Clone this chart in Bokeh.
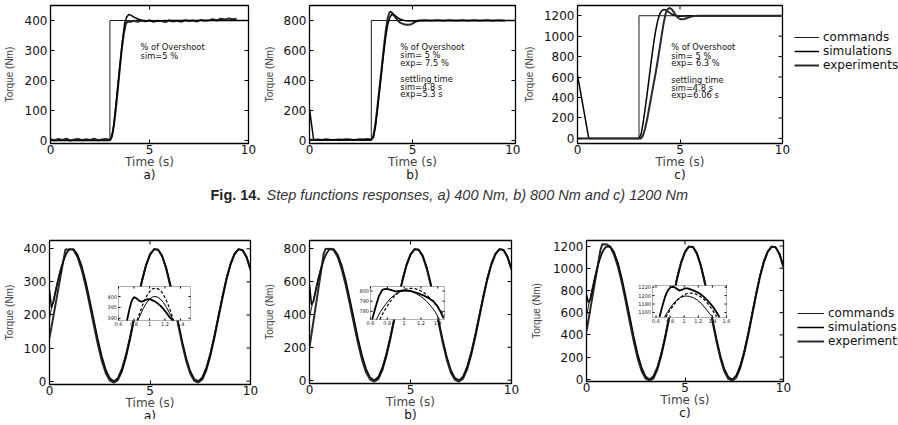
import math

from bokeh.plotting import figure
from bokeh.layouts import column, row
from bokeh.core.properties import value
from bokeh.models import (Range1d, FixedTicker, LinearAxis, Label, Legend, LegendItem,
                          BoxAnnotation)
from bokeh.embed import file_html
from bokeh.resources import INLINE

# ---------------------------------------------------------------- data
# Step responses (top row): commands, simulations, experiments
step_cmd_t = [0.0, 3.0, 3.0, 10.0]
step_a_cmd = [0, 0, 400, 400]
step_b_cmd = [0, 0, 800, 800]
step_c_cmd = [0, 0, 1200, 1200]

step_a_sim_t = [0.0, 2.98, 3.05, 3.15, 3.25, 3.35, 3.45, 3.55, 3.65, 3.75, 3.85,
                3.95, 4.05, 4.2, 4.4, 4.6, 4.85, 5.1, 5.5, 6.0, 10.0]
step_a_sim = [0, 0, 5, 30, 85, 150, 215, 280, 340, 392, 412,
              420, 418, 412, 405, 401, 399, 398.5, 399.5, 400, 400]

step_a_exp_t = [0.0, 0.2, 0.4, 0.6, 0.8, 1.0, 1.2, 1.4, 1.6, 1.8, 2.0, 2.2, 2.4, 2.6,
                2.8, 3.0, 3.1, 3.2, 3.3, 3.4, 3.5, 3.6, 3.7, 3.8, 3.9, 4.0, 4.2, 4.4,
                4.6, 4.8, 5.0, 5.2, 5.4, 5.6, 5.8, 6.0, 6.2, 6.4, 6.6, 6.8, 7.0, 7.2,
                7.4, 7.6, 7.8, 8.0, 8.2, 8.4, 8.6, 8.8, 9.0, 9.2, 9.4]
step_a_exp = [4, 1, 5, 2, 6, 0, 3, 5, 1, 4, 2, 6, 1, 3,
              5, 2, 12, 48, 105, 170, 240, 305, 355, 388, 398, 395, 399, 396,
              400, 397, 401, 396, 399, 398, 395, 400, 397, 399, 396, 401, 398, 400,
              397, 402, 399, 401, 404, 400, 406, 403, 407, 404, 406]

step_b_sim_t = [0.0, 0.2, 3.0, 3.1, 3.2, 3.3, 3.4, 3.5, 3.6, 3.7, 3.8, 3.9, 4.0,
                4.1, 4.2, 4.3, 4.4, 4.6, 4.8, 5.0, 5.3, 5.8, 10.0]
step_b_sim = [210, 5, 5, 20, 90, 205, 330, 455, 580, 690, 775, 822, 840,
              838, 828, 817, 808, 800, 796, 796, 799, 800, 800]

step_b_exp_t = [0.0, 0.2, 0.4, 0.6, 0.8, 1.0, 1.2, 1.4, 1.6, 1.8, 2.0, 2.2, 2.4, 2.6,
                2.8, 3.0, 3.1, 3.2, 3.3, 3.4, 3.5, 3.6, 3.7, 3.8, 3.9, 4.0, 4.1, 4.2,
                4.3, 4.4, 4.5, 4.6, 4.7, 4.8, 4.9, 5.0, 5.1, 5.2, 5.3, 5.6, 5.9, 6.2,
                6.5, 6.8, 7.1, 7.4, 7.7, 8.0, 8.3, 8.6, 8.9, 9.2, 9.5]
step_b_exp = [6, 3, 7, 4, 8, 5, 3, 7, 5, 9, 6, 4, 8, 6,
              10, 7, 30, 110, 230, 355, 480, 610, 730, 820, 858, 853, 835, 815,
              797, 786, 779, 775, 772, 771, 773, 779, 787, 795, 800, 802, 799, 801,
              798, 802, 799, 801, 798, 802, 799, 801, 798, 801, 799]

step_c_sim_t = [0.0, 0.55, 3.0, 3.1, 3.2, 3.3, 3.4, 3.5, 3.6, 3.7, 3.8, 3.9, 4.0,
                4.1, 4.2, 4.3, 4.4, 4.55, 4.7, 4.9, 5.2, 5.6, 10.0]
step_c_sim = [620, 0, 0, 40, 150, 290, 440, 600, 760, 910, 1040, 1140, 1210,
              1248, 1260, 1256, 1243, 1222, 1205, 1195, 1197, 1200, 1200]

step_c_exp_t = [0.0, 3.1, 3.2, 3.3, 3.4, 3.5, 3.6, 3.7, 3.8, 3.9, 4.0, 4.1, 4.2, 4.3,
                4.4, 4.5, 4.6, 4.7, 4.8, 4.9, 5.0, 5.1, 5.2, 5.35, 5.5, 5.7, 5.9, 10.0]
step_c_exp = [0, 0, 30, 100, 190, 300, 410, 520, 625, 745, 870, 1000, 1125, 1222,
              1265, 1276, 1262, 1235, 1205, 1180, 1168, 1165, 1168, 1178, 1190, 1197, 1200, 1200]

# Sinusoidal tracking (bottom row), sampled on a common time base
sine_t = [0.0, 0.1, 0.2, 0.3, 0.4, 0.5, 0.6, 0.7, 0.8, 0.9, 1.0, 1.2, 1.4, 1.6,
          1.8, 2.0, 2.2, 2.4, 2.6, 2.8, 3.0, 3.2, 3.4, 3.6, 3.8, 4.0, 4.2, 4.4,
          4.6, 4.8, 5.0, 5.2, 5.4, 5.6, 5.8, 6.0, 6.2, 6.4, 6.6, 6.8, 7.0, 7.2,
          7.4, 7.6, 7.8, 8.0, 8.2, 8.4, 8.6, 8.8, 9.0, 9.2, 9.4, 9.6, 9.8, 10.0]

sine_a_cmd = [190, 220, 249, 278, 304, 329, 350, 368, 383, 393, 399, 397, 377, 342,
              294, 237, 178, 120, 69, 30, 6, 0, 12, 41, 84, 137, 196, 255,
              310, 354, 385, 399, 396, 375, 338, 288, 232, 172, 114, 65, 27, 5,
              1, 14, 44, 88, 142, 202, 261, 315, 358, 387, 400, 394, 372, 333]
sine_a_sim = [275, 222, 240, 268, 296, 322, 345, 364, 380, 391, 398, 399, 382, 349,
              302, 246, 187, 128, 76, 35, 9, 0, 8, 34, 75, 127, 186, 246,
              302, 348, 381, 398, 398, 380, 345, 296, 240, 180, 122, 71, 31, 7,
              0, 10, 38, 80, 133, 192, 252, 307, 352, 383, 398, 397, 377, 340]
sine_a_exp = [130, 164, 198, 232, 266, 300, 334, 368, 399, 397, 399, 396, 374, 337,
              288, 231, 171, 113, 62, 24, 2, -4, 3, 30, 72, 126, 186, 247,
              303, 350, 383, 399, 397, 378, 341, 290, 233, 172, 113, 62, 23, 1,
              -4, 5, 33, 76, 130, 190, 250, 306, 351, 383, 399, 396, 375, 336]

sine_b_cmd = [380, 439, 498, 555, 609, 657, 700, 737, 765, 785, 797, 794, 754, 684,
              588, 475, 355, 239, 138, 60, 13, 0, 24, 81, 167, 273, 391, 510,
              619, 709, 770, 798, 791, 749, 675, 577, 463, 343, 229, 129, 54, 10,
              1, 28, 88, 177, 284, 403, 521, 629, 716, 774, 799, 789, 743, 667]
sine_b_sim = [580, 458, 480, 536, 592, 644, 690, 728, 760, 782, 796, 798, 764, 698,
              604, 492, 374, 256, 152, 70, 18, 0, 16, 68, 150, 254, 372, 492,
              604, 696, 762, 796, 796, 760, 690, 592, 480, 360, 244, 142, 62, 14,
              0, 20, 76, 160, 266, 384, 504, 614, 704, 766, 796, 794, 754, 680]
sine_b_exp = [200, 281, 362, 443, 524, 605, 686, 768, 800, 799, 800, 792, 748, 674,
              576, 462, 342, 226, 124, 48, 4, -8, 6, 60, 144, 252, 372, 494,
              606, 700, 766, 798, 794, 756, 682, 580, 466, 344, 226, 124, 46, 2,
              -8, 10, 66, 152, 260, 380, 500, 612, 702, 766, 798, 792, 750, 672]

sine_c_cmd = [570, 659, 747, 833, 913, 986, 1051, 1105, 1148, 1178, 1196, 1190, 1132, 1026,
              882, 712, 533, 359, 208, 90, 19, 1, 36, 122, 251, 410, 587, 764,
              929, 1063, 1154, 1197, 1187, 1124, 1013, 865, 695, 515, 343, 194, 81, 15,
              2, 42, 132, 265, 426, 605, 782, 944, 1074, 1160, 1199, 1183, 1115, 1000]
sine_c_sim = [760, 690, 722, 804, 888, 966, 1035, 1092, 1140, 1173, 1194, 1197, 1146, 1047,
              906, 738, 561, 384, 228, 105, 27, 0, 24, 102, 225, 381, 558, 738,
              906, 1044, 1143, 1194, 1194, 1140, 1035, 888, 720, 540, 366, 213, 93, 21,
              0, 30, 114, 240, 399, 576, 756, 921, 1056, 1149, 1194, 1191, 1131, 1020]
sine_c_exp = [430, 534, 638, 742, 846, 950, 1054, 1158, 1218, 1214, 1217, 1196, 1122, 1011,
              864, 693, 513, 339, 186, 72, 6, -12, 9, 90, 216, 378, 558, 741,
              909, 1050, 1149, 1197, 1191, 1134, 1023, 870, 699, 516, 339, 186, 69, 3,
              -12, 15, 99, 228, 390, 570, 750, 918, 1053, 1149, 1197, 1188, 1125, 1008]

# Zoomed views of the first peak (insets)
zoom_a_exp_t = [0.71, 0.74, 0.77, 0.80, 0.83, 0.87, 0.90, 0.94, 0.98, 1.02, 1.06, 1.10,
                1.14, 1.18, 1.22, 1.26, 1.30]
zoom_a_exp = [389, 394, 398, 399.7, 399.2, 398, 397.6, 398.3, 398.8, 398.6, 397.9, 397.0,
              395.8, 394.3, 392.5, 390.5, 389]
zoom_a_sim_t = [0.85, 0.88, 0.92, 0.96, 1.00, 1.04, 1.07, 1.10, 1.14, 1.18, 1.22, 1.26, 1.30, 1.32]
zoom_a_sim = [389, 391.5, 394.5, 397, 398.8, 399.8, 400, 399.8, 398.9, 397.3, 395.0, 392.3, 389.8, 389]
zoom_a_cmd_t = [0.84, 0.88, 0.92, 0.96, 1.00, 1.04, 1.08, 1.12, 1.16, 1.20, 1.24, 1.28, 1.31]
zoom_a_cmd = [389, 393, 396.8, 399.9, 402.2, 403.5, 403.9, 403.4, 402, 399.6, 396.4, 392.4, 389]

zoom_b_exp_t = [0.62, 0.66, 0.70, 0.74, 0.78, 0.82, 0.86, 0.90, 0.95, 1.00, 1.05, 1.10,
                1.16, 1.22, 1.28, 1.34, 1.39, 1.43, 1.47]
zoom_b_exp = [772, 784, 795, 801, 802, 801.5, 800.5, 799.5, 800, 800.5, 800.3, 799.5,
              798, 796, 793.5, 790.5, 786, 780, 773]
zoom_b_sim_t = [0.67, 0.72, 0.78, 0.84, 0.90, 0.96, 1.02, 1.08, 1.14, 1.20, 1.26, 1.32, 1.37, 1.42]
zoom_b_sim = [772, 780, 787, 793, 797, 799.5, 800.3, 799.6, 797.6, 794.6, 790.5, 785, 779.5, 772]
zoom_b_cmd_t = [0.71, 0.76, 0.82, 0.88, 0.94, 1.00, 1.06, 1.12, 1.18, 1.24, 1.30, 1.36, 1.42, 1.48]
zoom_b_cmd = [772, 780, 788, 794.5, 799, 801.5, 802.5, 802.5, 801, 798, 793.5, 788, 782, 776]

zoom_c_exp_t = [0.65, 0.69, 0.73, 0.77, 0.81, 0.85, 0.89, 0.93, 0.97, 1.01, 1.05, 1.10,
                1.16, 1.22, 1.28, 1.34, 1.40, 1.45, 1.50]
zoom_c_exp = [1149, 1175, 1198, 1213, 1220, 1221, 1217, 1212, 1214, 1217, 1217, 1214,
              1210, 1205, 1197, 1187, 1175, 1163, 1149]
zoom_c_sim_t = [0.72, 0.77, 0.83, 0.89, 0.95, 1.01, 1.07, 1.13, 1.19, 1.25, 1.31, 1.36, 1.41]
zoom_c_sim = [1149, 1163, 1178, 1189, 1196, 1199, 1198.5, 1195, 1189, 1180, 1168, 1157, 1148]
zoom_c_cmd_t = [0.74, 0.80, 0.86, 0.92, 0.98, 1.04, 1.10, 1.16, 1.22, 1.28, 1.34, 1.40, 1.46]
zoom_c_cmd = [1149, 1166, 1180, 1192, 1200, 1205, 1206, 1204, 1199, 1191, 1180, 1166, 1150]

x_ticks = [0, 5, 10]
y_ticks_400 = [0, 100, 200, 300, 400]
y_ticks_800 = [0, 200, 400, 600, 800]
y_ticks_1200 = [0, 200, 400, 600, 800, 1000, 1200]

zoom_x_ticks_ab = [0.6, 0.8, 1.0, 1.2, 1.4]
zoom_x_labels_ab = ["0.6", "0.8", "1", "1.2", "1.4"]
zoom_x_ticks_c = [0.6, 0.8, 1.0, 1.2, 1.4, 1.6]
zoom_x_labels_c = ["0.6", "0.8", "1", "1.2", "1.4", "1.6"]
zoom_a_y_ticks = [390, 395, 400]
zoom_b_y_ticks = [780, 790, 800]
zoom_c_y_ticks = [1160, 1180, 1200, 1220]

legend_labels = ["commands", "simulations", "experiments"]

# ---------------------------------------------------------------- styles
FONT = "DejaVu Sans"
LABEL_FONT = "Liberation Sans"
CAPTION_FONT = "Liberation Sans"

CMD = dict(line_color="#1c1c1c", line_width=1.0)
SIM = dict(line_color="#000000", line_width=1.5)
EXP = dict(line_color="#2a2a2a", line_width=2.0)
TICK = dict(line_color="black", line_width=1.0)


def style_axis(ax, standoff):
    ax.major_tick_in = 4
    ax.major_tick_out = 0
    ax.minor_tick_in = 0
    ax.minor_tick_out = 0
    ax.major_tick_line_color = "black"
    ax.axis_line_color = None
    ax.major_label_text_font = FONT
    ax.major_label_text_font_size = "12px"
    ax.major_label_text_color = "#111111"
    ax.major_label_standoff = standoff


def torque_panel(fw, fh, bl, bt, br, bb, y_lim, y_ticks, letter, label_gap=6):
    p = figure(frame_width=fw, frame_height=fh, title=None,
               x_range=Range1d(0, 10), y_range=Range1d(*y_lim),
               min_border_left=bl, min_border_top=bt,
               min_border_right=br, min_border_bottom=bb, align="start",
               background_fill_color=None, border_fill_color=None,
               outline_line_color="black", outline_line_width=1.3,
               output_backend="svg", toolbar_location=None)
    p.grid.visible = False
    p.xaxis.ticker = FixedTicker(ticks=x_ticks)
    p.yaxis.ticker = FixedTicker(ticks=y_ticks)
    style_axis(p.xaxis[0], 1)
    style_axis(p.yaxis[0], 3)
    p.xaxis.axis_label = "Time (s)"
    p.xaxis.axis_label_text_font = FONT
    p.xaxis.axis_label_text_font_size = "12px"
    p.xaxis.axis_label_text_font_style = "normal"
    p.xaxis.axis_label_standoff = -2
    p.yaxis.axis_label = "Torque (Nm)"
    p.yaxis.axis_label_text_font = LABEL_FONT
    p.yaxis.axis_label_text_font_size = "10px"
    p.yaxis.axis_label_text_font_style = "normal"
    p.yaxis.axis_label_standoff = label_gap
    # sub-figure letter: a tick-less axis stacked under the time axis
    tag = LinearAxis(ticker=FixedTicker(ticks=[]), axis_label=letter,
                     axis_line_color=None, major_tick_line_color=None,
                     major_tick_in=0, major_tick_out=0, minor_tick_in=0, minor_tick_out=0,
                     major_label_standoff=0, axis_label_standoff=-4,
                     axis_label_text_font=FONT, axis_label_text_font_size="12px",
                     axis_label_text_font_style="normal", axis_label_text_color="#111111")
    p.add_layout(tag, "below")
    # tick marks repeated on the right and top edges of the box
    p.ray(x=[10] * len(y_ticks), y=y_ticks, length=4, angle=math.pi,
          length_units="screen", **TICK)
    p.ray(x=x_ticks, y=[y_lim[1]] * len(x_ticks), length=4, angle=-math.pi / 2,
          length_units="screen", **TICK)
    return p


def note(p, x, ys, lines):
    for y, txt in zip(ys, lines):
        p.add_layout(Label(x=x, y=y, text=txt, text_font=FONT,
                           text_font_size="8.3px", text_baseline="alphabetic",
                           text_color="#111111"))


def add_zoom(p, name, frame_box, zoom_box, x_lim, y_lim, xt, xlab, yt, curves):
    """Draw a magnified view inside panel p, on its own pair of ranges."""
    fx, fy, fw, fh = frame_box
    zx, zy, zw, zh = zoom_box
    kx = (x_lim[1] - x_lim[0]) / zw
    ky = (y_lim[1] - y_lim[0]) / zh
    p.extra_x_ranges[name] = Range1d(x_lim[0] - (zx - fx) * kx,
                                     x_lim[1] + (fx + fw - zx - zw) * kx)
    p.extra_y_ranges[name] = Range1d(y_lim[0] - (fy + fh - zy - zh) * ky,
                                     y_lim[1] + (zy - fy) * ky)
    rn = dict(x_range_name=name, y_range_name=name)
    p.add_layout(BoxAnnotation(left=x_lim[0], right=x_lim[1], bottom=y_lim[0], top=y_lim[1],
                               fill_color="white", fill_alpha=1.0,
                               line_color="black", line_width=1.0, **rn))
    lv = dict(level="overlay", **rn)
    (et, ev), (st, sv), (ct, cv) = curves
    p.line(et, ev, line_color="black", line_width=1.8, **lv)
    p.line(st, sv, line_color="black", line_width=1.0, **lv)
    p.line(ct, cv, line_color="black", line_width=1.2, line_dash="3 2", **lv)
    n, m = len(xt), len(yt)
    p.ray(x=xt, y=[y_lim[0]] * n, length=2, angle=math.pi / 2, length_units="screen", **TICK, **lv)
    p.ray(x=xt, y=[y_lim[1]] * n, length=2, angle=-math.pi / 2, length_units="screen", **TICK, **lv)
    p.ray(x=[x_lim[0]] * m, y=yt, length=2, angle=0, length_units="screen", **TICK, **lv)
    p.ray(x=[x_lim[1]] * m, y=yt, length=2, angle=math.pi, length_units="screen", **TICK, **lv)
    tf = dict(text_font=value(FONT), text_font_size=value("5px"), text_color="#222222")
    p.text(x=xt, y=[y_lim[0]] * n, text=xlab, y_offset=1.5, text_align="center",
           text_baseline="top", **tf, **lv)
    p.text(x=[x_lim[0]] * m, y=yt, text=[str(v) for v in yt], x_offset=-1.5,
           text_align="right", text_baseline="middle", **tf, **lv)


def add_legend(p, renderers, location, glyph_w):
    lg = Legend(items=[LegendItem(label=lab, renderers=[r])
                       for lab, r in zip(legend_labels, renderers)],
                location=location, margin=0, padding=0, spacing=-1,
                glyph_width=glyph_w, glyph_height=12, label_height=12,
                label_standoff=4, label_text_font=FONT, label_text_font_size="12px",
                label_text_color="#111111",
                border_line_color=None, background_fill_alpha=0)
    p.add_layout(lg, "right")


# ---------------------------------------------------------------- step responses
sa = torque_panel(198, 138, 47, 5, 11, 37, (-10, 450), y_ticks_400, "a)", label_gap=7)
sa.line(step_cmd_t, step_a_cmd, **CMD)
sa.line(step_a_exp_t, step_a_exp, **EXP)
sa.line(step_a_sim_t, step_a_sim, **SIM)
note(sa, 4.55, [313, 283], ["% of Overshoot", "sim=5 %"])

sb = torque_panel(206, 138, 50, 5, 5, 37, (-20, 900), y_ticks_800, "b)")
sb.line(step_cmd_t, step_b_cmd, **CMD)
sb.line(step_b_exp_t, step_b_exp, **EXP)
sb.line(step_b_sim_t, step_b_sim, **SIM)
note(sb, 4.41, [625, 569, 518, 407, 358, 307],
     ["% of Overshoot", "sim= 5 %", "exp= 7.5 %", "settling time", "sim=4.8 s", "exp=5.3 s"])

sc = torque_panel(205, 138, 56, 5, 10, 37, (-50, 1300), y_ticks_1200, "c)")
rc = [sc.line(step_cmd_t, step_c_cmd, **CMD),
      sc.line(step_c_sim_t, step_c_sim, **SIM),
      sc.line(step_c_exp_t, step_c_exp, **EXP)]
note(sc, 4.57, [890, 809, 733, 570, 496, 424],
     ["% of Overshoot", "sim= 5 %", "exp= 6.3 %", "settling time", "sim=4.8 s", "exp=6.06 s"])
add_legend(sc, rc, (12, 71), 25)

# ---------------------------------------------------------------- caption
cap = figure(width=898, height=19, title=None,
             x_range=Range1d(0, 898), y_range=Range1d(0, 19),
             min_border=0, x_axis_location=None, y_axis_location=None,
             background_fill_color=None, border_fill_color=None,
             outline_line_color=None, output_backend="svg", toolbar_location=None)
cap.grid.visible = False
cap.add_layout(Label(x=210, y=8.5, text="Fig. 14.", text_font=CAPTION_FONT,
                     text_font_style="bold", text_font_size="14.5px",
                     text_baseline="alphabetic", text_color="#222222"))
cap.add_layout(Label(x=266, y=8.5,
                     text="Step functions responses, a) 400 Nm, b) 800 Nm and c) 1200 Nm",
                     text_font=CAPTION_FONT, text_font_style="italic",
                     text_font_size="14.5px", text_baseline="alphabetic",
                     text_color="#333333"))

# ---------------------------------------------------------------- sinusoidal tracking
wa = torque_panel(201, 144, 48, 31, 9, 35, (-10, 425), y_ticks_400, "a)")
wb = torque_panel(202, 143, 50, 34, 16, 35, (-20, 850), y_ticks_800, "b)")
wc = torque_panel(197, 141, 56, 37, 10, 35, (-20, 1250), y_ticks_1200, "c)", label_gap=8)
rw = None
for p, cmd, sim, exp in [(wa, sine_a_cmd, sine_a_sim, sine_a_exp),
                         (wb, sine_b_cmd, sine_b_sim, sine_b_exp),
                         (wc, sine_c_cmd, sine_c_sim, sine_c_exp)]:
    r_exp = p.line(sine_t, exp, **EXP)
    r_sim = p.line(sine_t, sim, **SIM)
    r_cmd = p.line(sine_t, cmd, **CMD)
    rw = [r_cmd, r_sim, r_exp]
add_legend(wc, rw, (14, 33), 27)

add_zoom(wa, "zoom", (48, 239, 201, 144), (117, 285, 72, 34), (0.6, 1.53), (389, 404.6),
         zoom_x_ticks_ab, zoom_x_labels_ab, zoom_a_y_ticks,
         [(zoom_a_exp_t, zoom_a_exp), (zoom_a_sim_t, zoom_a_sim), (zoom_a_cmd_t, zoom_a_cmd)])
add_zoom(wb, "zoom", (308, 242, 202, 143), (369, 288, 74, 33), (0.6, 1.48), (772, 804.4),
         zoom_x_ticks_ab, zoom_x_labels_ab, zoom_b_y_ticks,
         [(zoom_b_exp_t, zoom_b_exp), (zoom_b_sim_t, zoom_b_sim), (zoom_b_cmd_t, zoom_b_cmd)])
add_zoom(wc, "zoom", (582, 245, 197, 141), (648, 290, 74, 32), (0.55, 1.6), (1148, 1224),
         zoom_x_ticks_c, zoom_x_labels_c, zoom_c_y_ticks,
         [(zoom_c_exp_t, zoom_c_exp), (zoom_c_sim_t, zoom_c_sim), (zoom_c_cmd_t, zoom_c_cmd)])

root = column(row(sa, sb, sc), cap, row(wa, wb, wc))

open("out.html", "w").write(file_html(root, INLINE))
